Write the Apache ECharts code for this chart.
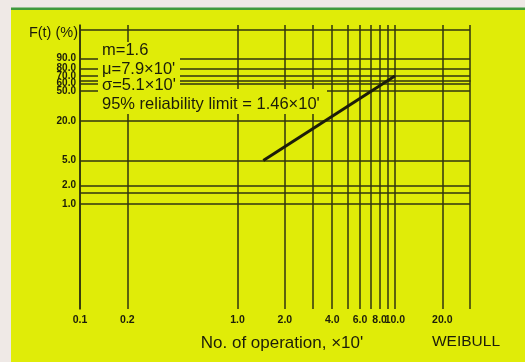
<!DOCTYPE html>
<html>
<head>
<meta charset="utf-8">
<script src="https://cdn.jsdelivr.net/npm/echarts@6/dist/echarts.min.js"></script>
<style>
  html, body { margin: 0; padding: 0; background: #efe9e6; }
  #chart { width: 525px; height: 362px; }
</style>
</head>
<body>
<div id="chart"></div>
<script>
// Weibull probability paper: cumulative failure F(t) (%) vs. number of operations (x10')
const xGridValues = [0.1, 0.2, 1, 2, 3, 4, 5, 6, 7, 8, 9, 10, 20, 30];
const xTickValues = [0.1, 0.2, 1, 2, 4, 6, 8, 10, 20];
const xRange = [0.1, 30];

const yGridPct = [99.9, 90, 80, 70, 60, 50, 20, 5, 2, 1.5, 1];
const yTickPct = [90, 80, 70, 60, 50, 20, 5, 2, 1];
const yRangePct = [0.02, 99.97];

// fitted Weibull line, starting at the 95% reliability limit (F = 5%)
const fitOps = [1.46, 10];
const fitPct = [5, 70];

const paramLines = ['m=1.6', 'μ=7.9×10\'', 'σ=5.1×10\'', '95% reliability limit = 1.46×10\''];

// Weibull ordinate: ln(-ln(1 - F))
const weib = p => Math.log(-Math.log(1 - p / 100));
const unweib = w => 100 * (1 - Math.exp(-Math.exp(w)));

const INK = '#1c1d0a';
const GRID = '#30350f';
const PAPER = '#e0ec08';
const FONT = '"Liberation Sans", Arial, sans-serif';

const chart = echarts.init(document.getElementById('chart'), null, { renderer: 'canvas' });

const textRows = [50, 69, 85, 104];

const tickLabel = {
  hideOverlap: false,
  color: INK,
  fontFamily: FONT,
  fontWeight: 'bold',
  fontSize: 10
};

// the axis ends are listed as (hidden) end labels so the closely spaced
// upper percentages are all kept
const yLabelValues = [yRangePct[0]].concat(yTickPct, [yRangePct[1]]).map(weib);

chart.setOption({
  backgroundColor: 'transparent',
  animation: false,
  grid: { left: 80, top: 25, width: 390, height: 284, containLabel: false },
  xAxis: {
    type: 'log',
    logBase: 10,
    min: xRange[0],
    max: xRange[1],
    axisLine: { show: true, lineStyle: { color: GRID, width: 1.6 } },
    axisTick: { show: false, customValues: xGridValues },
    splitLine: { show: true, lineStyle: { color: GRID, width: 1.5 } },
    axisLabel: Object.assign({}, tickLabel, {
      customValues: xTickValues,
      showMinLabel: true,
      showMaxLabel: true,
      margin: 6,
      fontSize: 10.5,
      formatter: v => Number(v).toFixed(1)
    })
  },
  yAxis: {
    type: 'value',
    min: weib(yRangePct[0]),
    max: weib(yRangePct[1]),
    axisLine: { show: true, lineStyle: { color: GRID, width: 1.6 } },
    axisTick: { show: false, customValues: yGridPct.map(weib) },
    splitLine: { show: true, lineStyle: { color: GRID, width: 1.5 } },
    axisLabel: Object.assign({}, tickLabel, {
      customValues: yLabelValues,
      showMinLabel: false,
      showMaxLabel: false,
      margin: 4,
      formatter: v => unweib(v).toFixed(1)
    })
  },
  series: [{
    type: 'line',
    data: fitOps.map((t, i) => [t, weib(fitPct[i])]),
    showSymbol: false,
    lineStyle: { color: INK, width: 3 },
    z: 5
  }],
  graphic: [
    // paper edges
    { type: 'rect', shape: { x: 11, y: 10, width: 514, height: 352 }, style: { fill: PAPER }, z: -10 },
    { type: 'rect', shape: { x: 11, y: 7.5, width: 514, height: 2.5 }, style: { fill: '#3f9a3c' }, z: -10 },
    // clear areas behind the parameter notes
    { type: 'rect', shape: { x: 98, y: 42, width: 82, height: 47 }, style: { fill: PAPER }, z: 50 },
    { type: 'rect', shape: { x: 98, y: 89, width: 229, height: 25 }, style: { fill: PAPER }, z: 50 },
    ...paramLines.map((s, i) => ({
      type: 'text', z: 60,
      style: { text: s, x: 102, y: textRows[i], fill: INK, font: '16.5px ' + FONT, verticalAlign: 'middle' }
    })),
    { type: 'text', z: 60,
      style: { text: 'F(t) (%)', x: 78, y: 33, fill: INK, font: '14.5px ' + FONT, align: 'right', verticalAlign: 'middle' } },
    { type: 'text', z: 60,
      style: { text: 'No. of operation, ×10\'', x: 282, y: 343, fill: INK, font: '17px ' + FONT, align: 'center', verticalAlign: 'middle' } },
    { type: 'text', z: 60,
      style: { text: 'WEIBULL', x: 466, y: 342, fill: INK, font: '15.5px ' + FONT, align: 'center', verticalAlign: 'middle' } }
  ]
});
</script>
</body>
</html>
